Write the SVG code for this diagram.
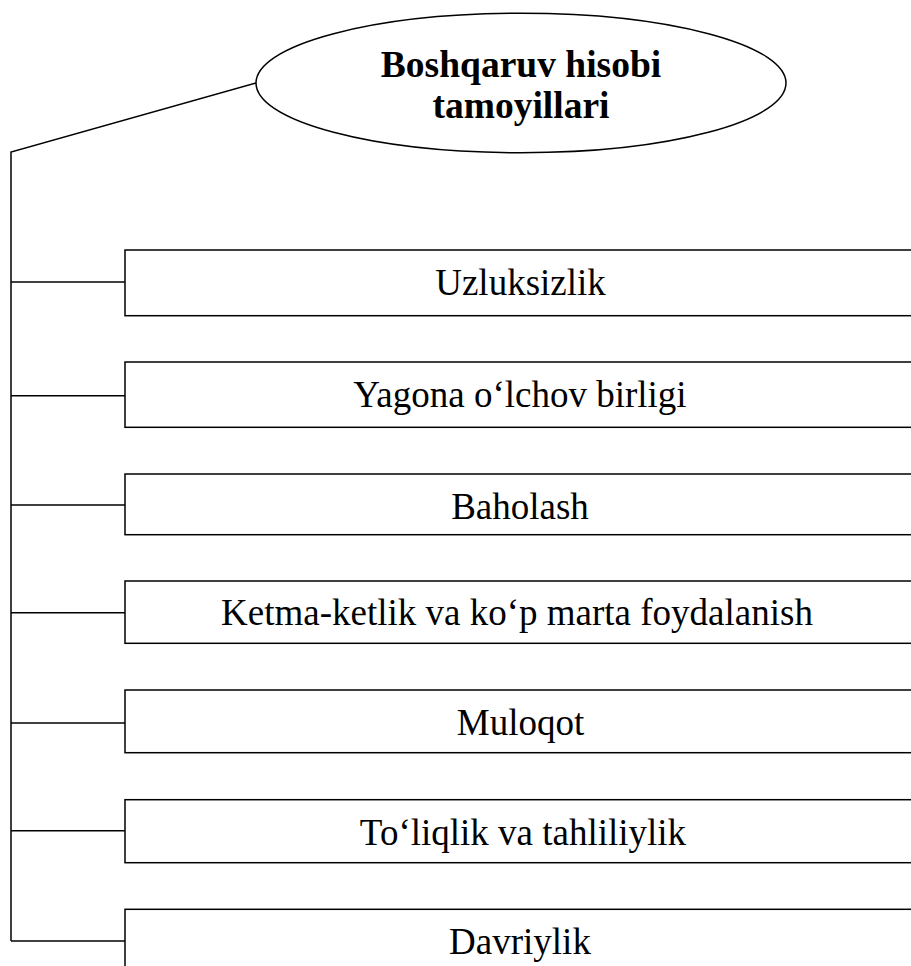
<svg xmlns="http://www.w3.org/2000/svg" width="911" height="966" viewBox="0 0 911 966">
  <style>
    .ln { fill: none; stroke: #000; stroke-width: 1.5; }
    .box { fill: #fff; stroke: #000; stroke-width: 1.5; }
    .lbl { font-family: "Liberation Serif", "Times New Roman", serif; font-size: 37px; fill: #000; text-anchor: middle; }
    .head { font-family: "Liberation Serif", "Times New Roman", serif; font-size: 37.5px; font-weight: bold; fill: #000; text-anchor: middle; }
  </style>
  <rect width="911" height="966" fill="#fff"/>

  <!-- trunk and branches -->
  <g id="connectors">
    <polyline class="ln" points="256,83 11,152 11,941"/>
    <line class="ln" x1="11" y1="282" x2="125" y2="282"/>
    <line class="ln" x1="11" y1="395.7" x2="125" y2="395.7"/>
    <line class="ln" x1="11" y1="505" x2="125" y2="505"/>
    <line class="ln" x1="11" y1="612.7" x2="125" y2="612.7"/>
    <line class="ln" x1="11" y1="723" x2="125" y2="723"/>
    <line class="ln" x1="11" y1="830.7" x2="125" y2="830.7"/>
    <line class="ln" x1="11" y1="941" x2="125" y2="941"/>
  </g>

  <g id="root">
    <ellipse class="box" cx="521" cy="83" rx="265" ry="69.7"/>
    <text class="head" x="521" y="77.3">Boshqaruv hisobi</text>
    <text class="head" x="521" y="118.3">tamoyillari</text>
  </g>

  <g id="n1">
    <rect class="box" x="125" y="250" width="800" height="65.7"/>
    <text class="lbl" x="520.5" y="295">Uzluksizlik</text>
  </g>
  <g id="n2">
    <rect class="box" x="125" y="362" width="800" height="65.3"/>
    <text class="lbl" x="520" y="406.7">Yagona o‘lchov birligi</text>
  </g>
  <g id="n3">
    <rect class="box" x="125" y="474" width="800" height="60.7"/>
    <text class="lbl" x="520" y="518.7">Baholash</text>
  </g>
  <g id="n4">
    <rect class="box" x="125" y="581" width="800" height="62.3"/>
    <text class="lbl" x="517" y="625">Ketma-ketlik va ko‘p marta foydalanish</text>
  </g>
  <g id="n5">
    <rect class="box" x="125" y="690" width="800" height="62.7"/>
    <text class="lbl" x="520.5" y="735.3">Muloqot</text>
  </g>
  <g id="n6">
    <rect class="box" x="125" y="799.7" width="800" height="63"/>
    <text class="lbl" x="523" y="845">To‘liqlik va tahliliylik</text>
  </g>
  <g id="n7">
    <rect class="box" x="125" y="909.3" width="800" height="80"/>
    <text class="lbl" x="520" y="954">Davriylik</text>
  </g>
</svg>
